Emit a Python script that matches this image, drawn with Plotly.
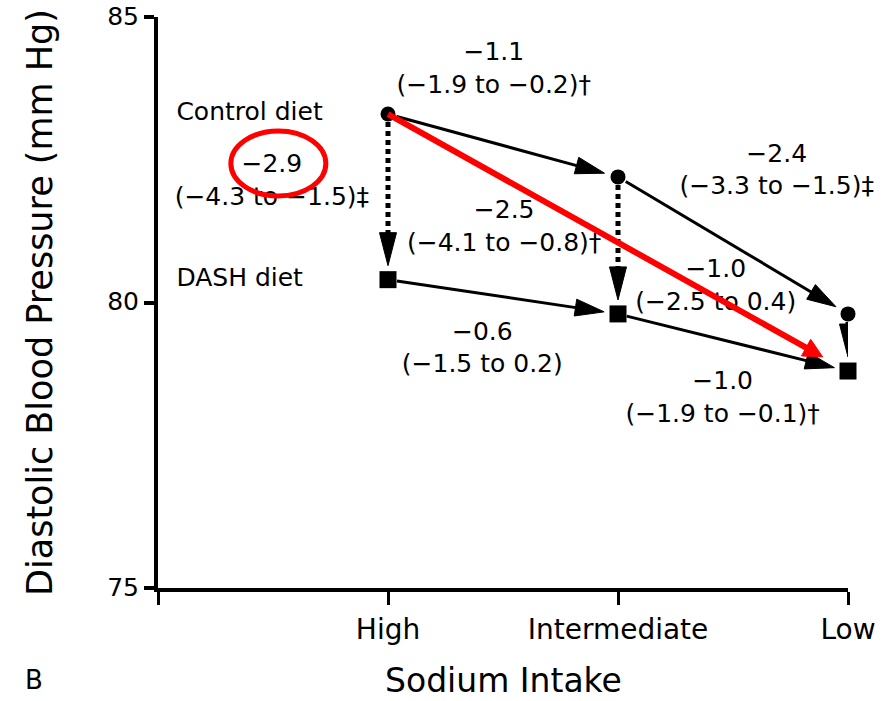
import math
import plotly.graph_objects as go

# ---------------- data ----------------
categories = ["High", "Intermediate", "Low"]
control_dbp = [83.3, 82.2, 79.8]
dash_dbp = [80.4, 79.8, 78.8]
y_tick_vals = [75, 80, 85]

series_names = ["Control diet", "DASH diet"]

# change labels: control High->Int, Int->Low
control_change_labels = ["−1.1<br>(−1.9 to −0.2)†", "−2.4<br>(−3.3 to −1.5)‡"]
# change labels: DASH High->Int, Int->Low
dash_change_labels = ["−0.6<br>(−1.5 to 0.2)", "−1.0<br>(−1.9 to −0.1)†"]
# DASH minus control at each sodium level
diet_diff_labels = ["−2.9<br>(−4.3 to −1.5)‡", "−2.5<br>(−4.1 to −0.8)†", "−1.0<br>(−2.5 to 0.4)"]

# label anchor positions (layout, not data)
control_change_pos = [(0.46, 84.07), (1.69, 82.29)]
dash_change_pos = [(0.41, 79.17), (1.455, 78.31)]
diet_diff_pos = [(-0.505, 82.11), (0.505, 81.30), (1.425, 80.27)]
name_label_x = -0.92

# ---------------- layout geometry ----------------
W, H = 887, 701
ML, MR, MT, MB = 158, 39, 17, 113
X_RANGE = [-1, 2]
Y_RANGE = [75, 85]
PLOT_W = W - ML - MR
PLOT_H = H - MT - MB
PX_X = PLOT_W / (X_RANGE[1] - X_RANGE[0])   # px per x unit
PX_Y = PLOT_H / (Y_RANGE[1] - Y_RANGE[0])   # px per y unit

xs = list(range(len(categories)))

fig = go.Figure()


def add_arrow(x0, y0, x1, y1, color, width, dash, head_len, head_w, standoff, start_off):
    # work in pixel space (y up) so the head keeps its shape
    dxp = (x1 - x0) * PX_X
    dyp = (y1 - y0) * PX_Y
    dist = math.hypot(dxp, dyp)
    ux, uy = dxp / dist, dyp / dist
    nx, ny = -uy, ux

    def to_data(px, py):
        return x0 + px / PX_X, y0 + py / PX_Y

    tip = (dxp - ux * standoff, dyp - uy * standoff)
    base = (tip[0] - ux * head_len, tip[1] - uy * head_len)
    start = (ux * start_off, uy * start_off)
    line_end = (base[0] + ux * 2, base[1] + uy * 2)
    sx, sy = to_data(*start)
    ex, ey = to_data(*line_end)
    fig.add_trace(go.Scatter(x=[sx, ex], y=[sy, ey], mode="lines",
                             line=dict(color=color, width=width, dash=dash),
                             cliponaxis=False, hoverinfo="skip", showlegend=False))
    c1 = to_data(base[0] + nx * head_w / 2, base[1] + ny * head_w / 2)
    c2 = to_data(base[0] - nx * head_w / 2, base[1] - ny * head_w / 2)
    t = to_data(*tip)
    fig.add_trace(go.Scatter(x=[t[0], c1[0], c2[0], t[0]], y=[t[1], c1[1], c2[1], t[1]],
                             mode="lines", fill="toself", fillcolor=color,
                             line=dict(color=color, width=1),
                             cliponaxis=False, hoverinfo="skip", showlegend=False))


# solid arrows along each series
for series in (control_dbp, dash_dbp):
    for i in range(len(xs) - 1):
        add_arrow(xs[i], series[i], xs[i + 1], series[i + 1], "black", 3, "solid",
                  29, 17, 14, 9)

# dotted vertical arrows control -> DASH
for i in range(len(xs)):
    add_arrow(xs[i], control_dbp[i], xs[i], dash_dbp[i], "black", 5, "5px,4px",
              33, 17, 14, 8)

# markers
fig.add_trace(go.Scatter(x=xs, y=control_dbp, mode="markers",
                         marker=dict(symbol="circle", size=15, color="black"),
                         cliponaxis=False, showlegend=False, hoverinfo="skip"))
fig.add_trace(go.Scatter(x=xs, y=dash_dbp, mode="markers",
                         marker=dict(symbol="square", size=17, color="black"),
                         cliponaxis=False, showlegend=False, hoverinfo="skip"))

# text labels
font_lbl = dict(family="DejaVu Sans", size=25, color="black")
all_labels = control_change_labels + dash_change_labels + diet_diff_labels
all_pos = control_change_pos + dash_change_pos + diet_diff_pos
fig.add_trace(go.Scatter(x=[p[0] for p in all_pos], y=[p[1] for p in all_pos],
                         mode="text", text=all_labels, textposition="middle center",
                         textfont=font_lbl, cliponaxis=False, showlegend=False,
                         hoverinfo="skip"))
fig.add_trace(go.Scatter(x=[name_label_x, name_label_x], y=[control_dbp[0], dash_dbp[0]],
                         mode="text", text=series_names, textposition="middle right",
                         textfont=font_lbl, cliponaxis=False, showlegend=False,
                         hoverinfo="skip"))

# red highlight arrow
add_arrow(xs[0], control_dbp[0], xs[-1], dash_dbp[-1], "#ff0000", 6, "solid",
          19, 19, 29, 0)

# red ellipse around -2.9
fig.add_shape(type="circle", xref="x", yref="y", xsizemode="pixel", ysizemode="pixel",
              xanchor=diet_diff_pos[0][0], yanchor=diet_diff_pos[0][1],
              x0=-41, x1=54, y0=-14, y1=51,
              line=dict(color="#ff0000", width=5), layer="above")

# x-axis title and panel letter
title_y = -(680 - (H - MB)) / PLOT_H
fig.add_annotation(text="Sodium Intake", xref="paper", yref="paper", x=0.5, y=title_y,
                   xanchor="center", yanchor="middle", showarrow=False,
                   font=dict(family="DejaVu Sans", size=33, color="black"))
fig.add_annotation(text="B", xref="paper", yref="paper", x=-0.196, y=title_y,
                   xanchor="left", yanchor="middle", showarrow=False,
                   font=dict(family="DejaVu Sans", size=26, color="black"))

fig.update_xaxes(range=X_RANGE, tickvals=[-1] + xs, ticktext=[""] + categories,
                 showline=True, linewidth=4, linecolor="black", ticks="outside",
                 ticklen=13, tickwidth=3, tickcolor="black", showgrid=False,
                 zeroline=False, ticklabeloverflow="allow", automargin=False,
                 tickfont=dict(family="DejaVu Sans", size=28, color="black"))
fig.update_yaxes(range=Y_RANGE, tickvals=y_tick_vals,
                 showline=True, linewidth=4, linecolor="black", ticks="outside",
                 ticklen=10, tickwidth=4, tickcolor="black", showgrid=False,
                 zeroline=False, ticklabeloverflow="allow", automargin=False,
                 ticklabelshift=-1,
                 tickfont=dict(family="DejaVu Sans", size=25, color="black"),
                 title=dict(text="Diastolic Blood Pressure (mm Hg)",
                            font=dict(family="DejaVu Sans", size=35, color="black"),
                            standoff=45))
fig.update_layout(width=W, height=H, margin=dict(l=ML, r=MR, t=MT, b=MB),
                  plot_bgcolor="white", paper_bgcolor="white", showlegend=False)

fig.write_html("out.html", config={"displayModeBar": False})
